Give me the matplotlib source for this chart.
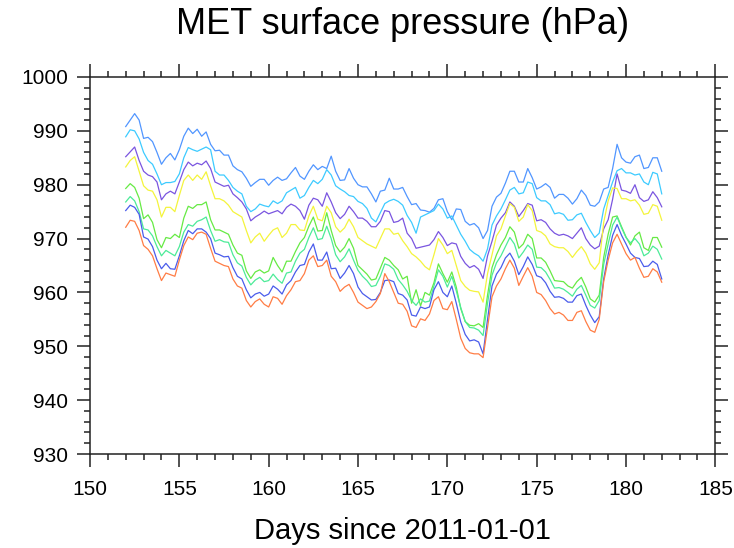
import numpy as np
import matplotlib
matplotlib.use("Agg")
import matplotlib.pyplot as plt
from matplotlib.ticker import MultipleLocator

plt.rcParams['font.family'] = ['Liberation Sans', 'DejaVu Sans']

# sampled every 6 hours, day 152.00 .. 182.00
days = np.linspace(152, 182, 121)

p1 = [990.8, 992.0, 993.2, 992.0,
      988.6, 988.8, 988.0, 986.0,
      983.8, 985.0, 985.8, 984.6,
      986.5, 989.0, 990.5, 989.5,
      990.3, 989.0, 989.8, 987.5,
      986.3, 986.4, 985.5, 985.5,
      983.5, 982.8, 982.4, 981.2,
      979.7, 980.4, 981.0, 981.0,
      979.9, 980.8, 981.4, 980.8,
      981.1, 982.2, 983.2, 981.6,
      981.0, 982.5, 983.7, 982.8,
      983.4, 983.0, 985.3, 982.5,
      980.8, 980.9, 983.0, 981.2,
      980.0, 979.6, 979.6, 978.3,
      976.8, 978.8, 979.0, 981.2,
      979.2, 979.2, 979.5, 977.8,
      976.3, 976.5, 975.3, 975.2,
      974.9, 975.6, 977.2, 977.4,
      975.0, 973.5, 975.5, 975.4,
      973.2, 972.5, 972.8, 972.0,
      970.0, 971.5, 976.0, 977.7,
      978.4, 980.3, 982.5, 982.5,
      980.5, 980.5, 983.0, 981.3,
      979.2, 979.6, 980.2, 979.5,
      977.5, 978.2, 978.2, 977.5,
      976.4, 977.4, 979.0, 978.0,
      976.2, 976.0, 976.8, 979.2,
      979.5, 983.0, 987.5, 985.0,
      984.2, 984.0, 985.2, 985.5,
      983.0, 983.2, 985.0, 985.0,
      982.5]

p2 = [988.9, 990.2, 990.0, 988.5,
      986.0, 984.5, 983.8, 982.0,
      980.0, 980.4, 980.4, 980.6,
      982.0, 985.0, 986.9, 986.5,
      986.2, 986.6, 987.0, 986.5,
      982.5, 981.8, 981.8, 980.8,
      979.5, 978.8, 978.3, 976.0,
      975.0, 975.5, 976.4, 976.1,
      975.9, 977.0, 976.5, 977.0,
      978.5, 979.0, 979.5, 977.5,
      978.0, 979.5, 980.8, 980.2,
      981.0, 982.8, 981.8, 979.8,
      979.2, 978.7, 978.0, 977.8,
      976.9, 976.5, 975.6, 973.8,
      973.1, 974.8, 976.5, 977.0,
      977.3, 976.9, 976.2, 974.3,
      973.0, 971.0, 974.0, 974.4,
      974.8, 975.2, 976.4, 975.5,
      973.8, 974.2, 972.5, 970.8,
      969.5, 968.0, 967.3, 966.8,
      965.8, 968.1, 972.5, 974.2,
      975.5, 977.2, 979.0, 979.5,
      978.3, 978.5, 980.5, 980.2,
      977.6, 977.0, 977.0, 976.3,
      974.6, 974.8, 974.5, 973.4,
      973.5, 974.4, 974.7, 973.0,
      971.5, 970.2, 971.0, 975.5,
      978.0, 980.5, 982.6, 983.0,
      982.2, 982.2, 981.8, 982.0,
      980.5, 980.0, 982.3, 982.0,
      978.3]

p3 = [985.2, 986.1, 987.0, 984.5,
      982.5, 981.8, 981.5, 980.5,
      977.2, 978.3, 978.8, 978.3,
      980.5, 982.8, 984.2, 983.5,
      984.0, 983.7, 984.4, 983.0,
      980.5, 980.1, 979.7, 979.9,
      978.3, 977.6, 976.8, 975.5,
      973.3, 974.0, 974.5, 975.1,
      974.6, 974.9, 975.2, 974.6,
      975.8, 976.4, 976.0, 975.2,
      973.6, 976.2, 977.5, 977.2,
      976.0, 978.5, 976.8, 974.8,
      973.7, 974.5, 976.0, 975.0,
      973.8, 973.8, 973.2, 972.2,
      972.2, 973.2, 975.2, 975.0,
      973.0, 973.2, 973.8, 971.0,
      970.0, 968.2, 968.4, 968.6,
      968.8, 969.8, 971.3, 970.2,
      968.7, 969.2, 969.0, 966.7,
      965.4, 964.6, 965.0, 964.3,
      962.6, 966.8, 969.5, 972.5,
      973.8, 974.8, 976.8, 976.0,
      974.1, 975.2, 976.5, 976.2,
      973.3, 973.5, 973.0, 971.8,
      971.0, 970.6, 970.8, 970.5,
      970.0, 971.0, 972.0, 970.0,
      968.8, 968.1, 968.6, 971.8,
      973.5, 977.3, 982.0, 979.0,
      978.8, 978.4, 980.0, 977.6,
      976.9, 977.2, 978.7, 977.6,
      975.9]

p4 = [983.3, 984.5, 985.2, 982.5,
      979.8, 979.0, 978.8, 977.2,
      974.0, 975.8, 975.8, 975.0,
      978.0, 980.8, 981.8, 980.8,
      981.8, 981.0, 982.4, 979.8,
      977.4, 977.4, 977.0, 976.2,
      975.0, 974.5, 974.0, 971.5,
      969.2, 970.3, 971.0, 969.5,
      970.6, 971.6, 972.0, 970.2,
      971.0, 972.6, 972.6, 971.6,
      971.5, 974.2, 976.0, 973.6,
      973.3, 976.0, 974.8, 972.2,
      971.2, 972.0, 973.6, 972.2,
      970.2, 969.6, 969.0, 968.6,
      968.2, 970.0, 971.8, 971.8,
      970.8, 971.0, 969.6, 968.5,
      967.2, 966.6, 965.8, 964.8,
      964.2, 967.0, 970.0, 968.8,
      967.2, 967.8, 965.0, 962.2,
      961.1, 960.4, 960.2, 960.1,
      958.2, 963.5, 967.0, 970.5,
      971.8, 974.2, 976.5, 975.8,
      973.2, 974.0, 976.3, 975.2,
      971.5, 971.2, 970.5, 969.0,
      968.5, 968.3, 968.3, 967.6,
      966.5, 967.6, 968.5, 967.3,
      965.3, 964.3, 965.5, 973.0,
      977.0, 979.4, 979.3, 977.4,
      977.4, 977.0, 977.2, 976.2,
      974.5, 974.7, 976.3, 976.0,
      973.4]

p5 = [979.3, 980.2, 979.5, 977.5,
      973.7, 974.4, 973.0, 969.8,
      968.3, 970.2, 970.0, 970.8,
      970.2, 973.8, 976.0, 975.6,
      976.3, 976.3, 976.8, 973.5,
      971.6, 971.6, 971.2, 970.8,
      968.8, 967.3, 966.9, 964.0,
      962.6, 963.8, 964.2, 963.6,
      964.0, 966.5, 965.0, 963.8,
      965.8, 965.8, 967.6, 969.2,
      970.2, 972.3, 974.0, 971.4,
      971.5, 974.8, 971.5, 968.7,
      967.5, 968.4, 970.0, 968.2,
      965.0, 964.2, 963.4, 962.3,
      962.5, 964.5, 966.5, 966.0,
      965.0, 964.2, 962.5, 963.0,
      958.0, 960.5, 957.5, 960.0,
      959.5, 961.8, 965.3, 963.5,
      961.9, 963.8, 961.0, 957.0,
      954.6, 953.9, 953.8, 954.2,
      953.5, 959.5, 964.6, 967.0,
      968.8, 970.2, 972.2, 971.2,
      968.2, 969.0, 970.8, 970.0,
      966.4, 966.4, 965.6, 964.0,
      962.2, 962.1, 962.0, 961.2,
      960.8, 962.0, 962.8, 961.0,
      958.8, 958.2, 959.5, 966.5,
      970.8, 974.0, 974.2, 972.2,
      970.3, 968.8, 970.5, 971.2,
      968.3, 967.8, 970.2, 970.2,
      968.4]

p6 = [976.8, 977.8, 977.0, 975.0,
      971.8, 971.6, 970.5, 968.5,
      966.8, 967.8, 967.3, 966.8,
      968.5, 971.2, 972.6, 972.3,
      973.2, 973.5, 974.0, 971.5,
      969.5, 969.8, 969.4, 969.3,
      967.0, 965.5, 964.9, 962.8,
      961.4, 962.3, 962.8, 962.0,
      962.2, 963.4, 962.4, 961.7,
      963.6, 963.8, 965.8, 967.3,
      968.0, 970.2, 972.0, 969.8,
      970.0, 972.3, 970.0, 967.0,
      965.7, 966.6, 968.1, 966.0,
      964.1, 963.0, 962.2, 961.1,
      961.3, 963.0, 965.3, 965.0,
      964.3, 962.4, 961.4, 960.2,
      958.5, 957.6, 958.8, 958.2,
      958.4, 961.2, 964.2, 963.0,
      961.0, 963.0, 960.3, 957.2,
      954.6, 953.5, 953.4, 953.0,
      952.0, 958.0, 963.2, 965.5,
      966.8, 968.5, 970.2, 969.0,
      966.4, 967.5, 968.8, 968.0,
      964.7, 964.6, 963.8, 962.4,
      960.8, 960.9, 960.6, 960.0,
      959.3, 960.6, 961.3, 959.5,
      957.6, 957.1, 958.5, 965.2,
      969.0, 972.5, 974.0, 972.0,
      970.2, 969.2, 970.0, 969.0,
      966.8, 967.3, 968.6, 968.0,
      966.2]

p7 = [975.2, 976.2, 975.8, 974.5,
      970.3, 969.9, 968.5, 966.0,
      964.4, 965.4, 964.4, 964.3,
      966.8, 969.6, 971.5, 970.9,
      971.8, 971.8, 971.2, 970.0,
      967.3, 967.0, 966.6, 966.7,
      964.6, 963.0, 962.5, 960.5,
      959.0, 959.7, 960.0, 959.3,
      959.7, 961.2, 960.6, 959.7,
      961.4, 962.2, 963.8, 965.0,
      965.2, 967.5, 969.0, 966.0,
      966.0, 967.5, 964.4, 964.5,
      962.6, 963.6, 965.0, 963.5,
      961.0, 959.8, 959.2, 958.6,
      958.7, 960.0, 962.2, 962.3,
      962.0, 959.8, 959.5, 958.6,
      955.8, 955.6, 957.3, 957.0,
      957.3, 960.5, 962.0, 960.0,
      959.2, 961.2, 958.0, 954.5,
      952.2, 951.0, 951.2, 950.8,
      948.6, 955.0, 961.2, 963.4,
      964.6, 966.4, 967.3, 965.8,
      963.3, 964.8, 966.6, 965.2,
      963.1, 962.8, 961.8, 960.2,
      959.1, 959.2, 958.9, 958.2,
      958.2, 959.4, 959.7, 957.6,
      955.8, 954.4, 955.5, 962.5,
      967.0, 970.6, 972.6, 970.6,
      969.0, 967.3, 966.5, 966.3,
      964.8, 964.9, 965.8, 965.2,
      962.5]

p8 = [972.1, 973.4, 973.2, 971.5,
      968.7, 968.0, 966.8, 964.4,
      962.2, 963.6, 963.3, 963.0,
      966.0, 968.7, 970.3, 969.8,
      971.0, 971.2, 970.8, 968.2,
      965.8, 965.4, 965.0, 964.8,
      962.5, 961.2, 960.8, 958.5,
      957.3, 958.3, 958.8, 957.8,
      957.3, 959.2, 958.9, 957.8,
      959.4, 960.5, 962.0, 962.2,
      963.5, 966.0, 966.8, 964.8,
      965.0, 966.0, 963.0, 962.0,
      960.2, 961.0, 961.5, 960.0,
      958.2, 957.6, 957.0, 957.3,
      958.3, 959.8, 963.5, 962.0,
      960.0, 958.0, 957.8, 956.5,
      953.8, 953.5, 955.1, 954.8,
      956.0, 958.5, 959.2, 957.0,
      956.8, 958.3, 955.0, 951.5,
      949.6, 948.8, 948.6, 948.6,
      947.9, 953.5, 959.2, 961.2,
      962.5, 964.4, 966.0, 964.5,
      961.3, 963.0, 964.6, 963.0,
      960.0, 959.6, 958.5, 957.0,
      956.0, 956.3, 955.8, 954.8,
      954.8, 956.3, 956.6, 954.6,
      953.0, 952.6, 955.0, 962.0,
      966.0, 969.2, 970.8, 969.0,
      967.2, 966.0, 966.5, 964.5,
      962.8, 963.0, 964.4, 963.8,
      961.9]

series = [p1, p2, p3, p4, p5, p6, p7, p8]
colors = ["#5196FF", "#3DCBFF", "#7A55E0", "#F4F43C",
          "#66EA44", "#4CEB98", "#4A5CEB", "#FF7D45"]

fig = plt.figure(figsize=(7.34, 5.48), dpi=100)
ax = fig.add_axes([0.1226, 0.1715, 0.852, 0.688])

for vals, c in zip(series, colors):
    ax.plot(days, vals, color=c, linewidth=0.9)

ax.set_xlim(150, 185)
ax.set_ylim(930, 1000)
ax.xaxis.set_major_locator(MultipleLocator(5))
ax.xaxis.set_minor_locator(MultipleLocator(1))
ax.yaxis.set_major_locator(MultipleLocator(10))
ax.yaxis.set_minor_locator(MultipleLocator(2))

ax.tick_params(which='both', direction='out', top=True, right=True,
               color='#222222', width=1.1)
ax.tick_params(which='major', length=9.5, labelsize=15)
ax.tick_params(axis='x', which='major', pad=9)
ax.tick_params(axis='y', which='major', pad=6)
ax.tick_params(which='minor', length=4.5)
for s in ax.spines.values():
    s.set_linewidth(1.1)
    s.set_color('#222222')

ax.set_xlabel("Days since 2011-01-01", fontsize=21, labelpad=13)
ax.set_title("MET surface pressure (hPa)", fontsize=26, pad=31)

fig.savefig("out.png", dpi=100)
